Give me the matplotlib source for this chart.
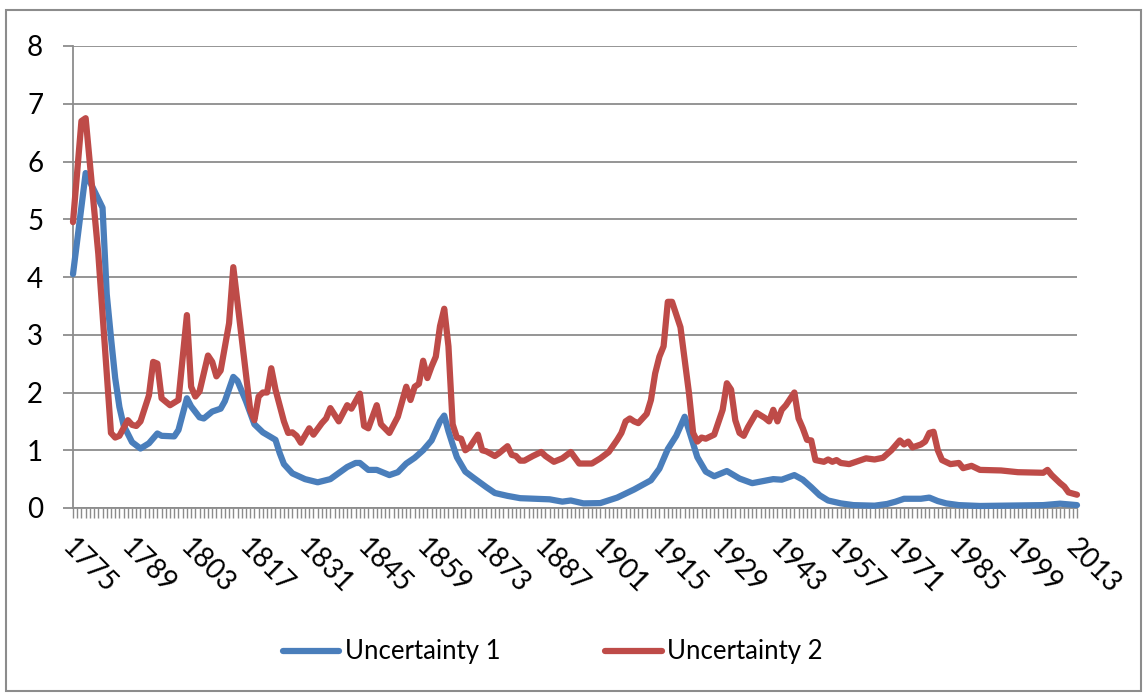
import matplotlib
matplotlib.use('Agg')
import matplotlib.pyplot as plt
from matplotlib.transforms import ScaledTranslation
from matplotlib.patches import Rectangle

plt.rcParams['font.family'] = ['Lato', 'DejaVu Sans']

# values, at the turning points of each line
u1_years = [1775, 1778, 1782, 1783, 1784, 1785, 1786, 1787, 1789, 1791, 1793, 1795,
            1796, 1799, 1800, 1802, 1803, 1805, 1806, 1808, 1810, 1811, 1813, 1814,
            1816, 1818, 1820, 1823, 1824, 1825, 1827, 1830, 1833, 1836, 1840, 1842,
            1843, 1845, 1847, 1850, 1852, 1854, 1856, 1858, 1860, 1862, 1863, 1864,
            1865, 1866, 1868, 1870, 1873, 1875, 1878, 1881, 1888, 1891, 1893, 1896,
            1900, 1904, 1908, 1912, 1914, 1916, 1918, 1920, 1921, 1923, 1925, 1927,
            1930, 1933, 1936, 1941, 1943, 1946, 1948, 1950, 1952, 1954, 1957, 1960,
            1965, 1968, 1970, 1972, 1976, 1978, 1980, 1982, 1985, 1990, 2005, 2009,
            2013]
u1 = [4.05, 5.80, 5.20, 3.70, 2.95, 2.25, 1.75, 1.43, 1.14, 1.03, 1.12, 1.29,
      1.25, 1.24, 1.35, 1.90, 1.76, 1.57, 1.55, 1.67, 1.72, 1.85, 2.27, 2.20,
      1.85, 1.45, 1.31, 1.18, 0.95, 0.76, 0.60, 0.50, 0.445, 0.50, 0.71, 0.78,
      0.78, 0.66, 0.66, 0.57, 0.62, 0.77, 0.87, 1.00, 1.17, 1.50, 1.60, 1.33,
      1.10, 0.88, 0.63, 0.52, 0.36, 0.26, 0.21, 0.17, 0.15, 0.11, 0.13, 0.08,
      0.085, 0.18, 0.32, 0.48, 0.68, 1.02, 1.25, 1.58, 1.35, 0.88, 0.63, 0.55,
      0.64, 0.51, 0.43, 0.50, 0.49, 0.57, 0.49, 0.36, 0.22, 0.13, 0.08, 0.05,
      0.04, 0.07, 0.11, 0.16, 0.16, 0.18, 0.12, 0.08, 0.05, 0.035, 0.05, 0.075,
      0.05]

u2_years = [1775, 1777, 1778, 1781, 1784, 1785, 1786, 1788, 1789, 1790, 1791, 1793,
            1794, 1795, 1796, 1798, 1800, 1801, 1802, 1803, 1804, 1805, 1807, 1808,
            1809, 1810, 1812, 1813, 1817, 1818, 1819, 1820, 1821, 1822, 1823, 1825,
            1826, 1827, 1828, 1829, 1831, 1832, 1834, 1835, 1836, 1838, 1840, 1841,
            1843, 1844, 1845, 1847, 1848, 1850, 1852, 1854, 1855, 1856, 1857, 1858,
            1859, 1860, 1861, 1862, 1863, 1864, 1865, 1866, 1867, 1868, 1869, 1871,
            1872, 1873, 1875, 1876, 1878, 1879, 1880, 1881, 1882, 1884, 1886, 1887,
            1889, 1891, 1893, 1895, 1898, 1900, 1902, 1904, 1905, 1906, 1907, 1908,
            1909, 1911, 1912, 1913, 1914, 1915, 1916, 1917, 1918, 1919, 1921, 1922,
            1923, 1924, 1925, 1927, 1929, 1930, 1931, 1932, 1933, 1934, 1935, 1937,
            1939, 1940, 1941, 1942, 1943, 1944, 1946, 1947, 1948, 1949, 1950, 1951,
            1953, 1954, 1955, 1956, 1957, 1959, 1961, 1963, 1965, 1967, 1969, 1971,
            1972, 1973, 1974, 1976, 1977, 1978, 1979, 1980, 1981, 1983, 1985, 1986,
            1988, 1990, 1995, 1999, 2005, 2006, 2007, 2009, 2010, 2011, 2013]
u2 = [4.95, 6.70, 6.75, 4.40, 1.30, 1.22, 1.25, 1.52, 1.44, 1.42, 1.50, 1.95,
      2.53, 2.50, 1.90, 1.78, 1.87, 2.60, 3.34, 2.10, 1.93, 2.02, 2.64, 2.53,
      2.28, 2.38, 3.20, 4.17, 1.70, 1.52, 1.93, 2.00, 2.00, 2.42, 2.05, 1.50,
      1.30, 1.31, 1.25, 1.13, 1.38, 1.27, 1.47, 1.55, 1.73, 1.50, 1.78, 1.72,
      1.98, 1.42, 1.38, 1.78, 1.45, 1.30, 1.58, 2.10, 1.87, 2.10, 2.15, 2.55,
      2.25, 2.45, 2.62, 3.15, 3.45, 2.80, 1.45, 1.22, 1.20, 1.00, 1.05, 1.27,
      1.00, 0.98, 0.90, 0.95, 1.07, 0.92, 0.90, 0.82, 0.82, 0.90, 0.97, 0.90,
      0.80, 0.86, 0.97, 0.77, 0.77, 0.86, 0.97, 1.18, 1.30, 1.50, 1.55, 1.50,
      1.47, 1.63, 1.87, 2.33, 2.62, 2.80, 3.57, 3.57, 3.35, 3.13, 2.00, 1.30,
      1.15, 1.22, 1.20, 1.27, 1.70, 2.16, 2.05, 1.52, 1.30, 1.25, 1.40, 1.65,
      1.56, 1.50, 1.70, 1.50, 1.70, 1.78, 2.00, 1.55, 1.38, 1.18, 1.17, 0.83,
      0.80, 0.84, 0.80, 0.83, 0.78, 0.76, 0.81, 0.86, 0.84, 0.87, 1.00, 1.17,
      1.10, 1.15, 1.05, 1.10, 1.15, 1.30, 1.32, 1.00, 0.83, 0.76, 0.78, 0.69,
      0.73, 0.66, 0.65, 0.62, 0.61, 0.66, 0.57, 0.43, 0.37, 0.27, 0.23]

label_years = list(range(1775, 2014, 14))

W, H = 1146, 693
fig = plt.figure(figsize=(W / 100, H / 100), dpi=100)
ax = fig.add_axes([73 / W, 185 / H, 1004 / W, 462 / H])

grey = '#8C8C8C'
ax.plot(u1_years, u1, color='#4A7EBB', lw=4.5, solid_joinstyle='round',
        solid_capstyle='round', label='Uncertainty 1', clip_on=False, zorder=3)
ax.plot(u2_years, u2, color='#BE4B48', lw=4.5, solid_joinstyle='round',
        solid_capstyle='round', label='Uncertainty 2', clip_on=False, zorder=3)

ax.set_xlim(1775, 2013)
ax.set_ylim(0, 8)
ax.set_yticks(range(9))
ax.grid(axis='y', color=grey, lw=1.3)
ax.set_axisbelow(True)
for s in ['top', 'right']:
    ax.spines[s].set_visible(False)
for s in ['left', 'bottom']:
    ax.spines[s].set_color(grey)
    ax.spines[s].set_linewidth(1.3)

ax.tick_params(axis='y', length=7.5, width=1.3, color=grey, labelsize=20, pad=14)
ax.set_xticks(label_years)
ax.set_xticklabels([str(y) for y in label_years], rotation=-45, ha='left',
                   va='center', rotation_mode='anchor')
ax.set_xticks(range(1775, 2014), minor=True)
ax.tick_params(axis='x', which='both', length=7.5, width=1.0, color=grey,
               labelsize=20, pad=18)
shift = ScaledTranslation(-7 / 100, 0, fig.dpi_scale_trans)
for lab in ax.get_xticklabels():
    lab.set_transform(lab.get_transform() + shift)

fig.legend(loc='center left', bbox_to_anchor=(270 / W, 1 - 652 / H), ncol=2,
           frameon=False, fontsize=18.5, handlelength=2.2, handletextpad=0.2,
           columnspacing=4.1, borderpad=0)

fig.add_artist(Rectangle((6 / W, 1 - 691 / H), 1135 / W, 681 / H,
                         transform=fig.transFigure, fill=False, ec=grey, lw=1.5))

fig.savefig('out.png', dpi=100)
